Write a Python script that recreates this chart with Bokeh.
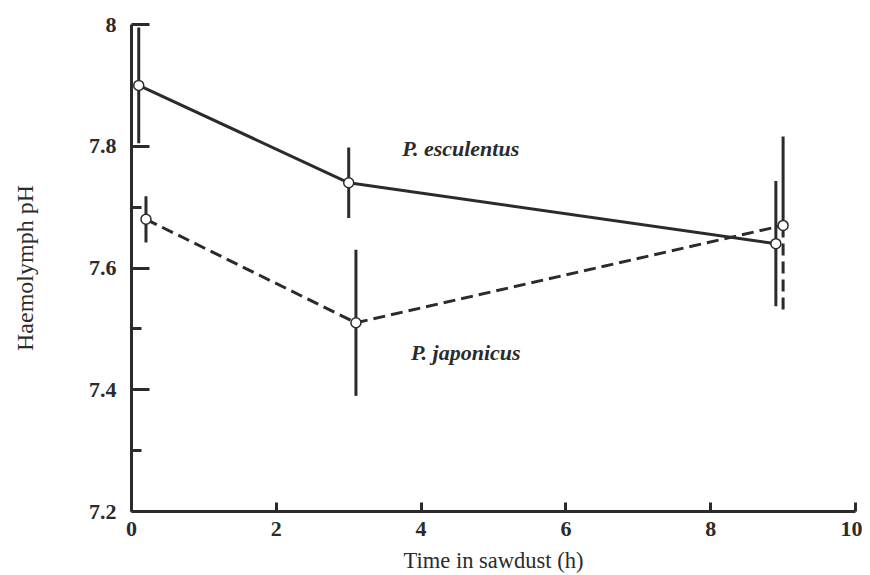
from bokeh.plotting import figure
from bokeh.models import Range1d, FixedTicker, ColumnDataSource, Label
from bokeh.embed import file_html
from bokeh.resources import INLINE

# ---- data ----
esc_time = [0.1, 3.0, 8.9]
esc_ph = [7.90, 7.74, 7.64]
esc_err = [0.095, 0.058, 0.103]

jap_time = [0.2, 3.1, 9.0]
jap_ph = [7.68, 7.51, 7.67]
jap_err = [0.038, 0.12, 0.146]

x_ticks = [0, 2, 4, 6, 8, 10]
y_ticks = [7.2, 7.4, 7.6, 7.8, 8.0]
y_minor = [7.3, 7.5, 7.7]
y_labels = {7.2: "7.2", 7.4: "7.4", 7.6: "7.6", 7.8: "7.8", 8.0: "8"}

INK = "#2b2b2b"
FONT = "Liberation Serif"

p = figure(width=862, height=575, output_backend="svg", toolbar_location=None,
           x_range=Range1d(0, 10), y_range=Range1d(7.2, 8.0),
           min_border_left=131, min_border_right=7, min_border_top=24,
           min_border_bottom=63)
p.outline_line_color = None
p.grid.visible = False
p.background_fill_color = "white"
p.border_fill_color = "white"

for ax in (p.xaxis[0], p.yaxis[0]):
    ax.axis_line_width = 3
    ax.axis_line_color = INK
    ax.major_tick_line_width = 3
    ax.major_tick_line_color = INK
    ax.minor_tick_line_width = 3
    ax.minor_tick_line_color = INK
    ax.major_label_text_font = FONT
    ax.major_label_text_font_style = "bold"
    ax.major_label_text_color = INK
    ax.major_label_text_font_size = "22px"
    ax.axis_label_text_font = FONT
    ax.axis_label_text_font_style = "normal"
    ax.axis_label_text_color = INK

p.xaxis.ticker = FixedTicker(ticks=x_ticks)
p.xaxis.major_tick_in = 9
p.xaxis.major_tick_out = 0
p.xaxis.minor_tick_in = 0
p.xaxis.minor_tick_out = 0
p.xaxis.major_label_standoff = 10
p.xaxis.axis_label = "Time in sawdust (h)"
p.xaxis.axis_label_text_font_size = "22.5px"
p.xaxis.axis_label_standoff = 9

p.yaxis.ticker = FixedTicker(ticks=y_ticks, minor_ticks=y_minor)
p.yaxis.major_label_overrides = y_labels
p.yaxis.major_tick_in = 18
p.yaxis.major_tick_out = 0
p.yaxis.minor_tick_in = 10
p.yaxis.minor_tick_out = 0
p.yaxis.major_label_standoff = 15
p.yaxis.axis_label = "Haemolymph pH"
p.yaxis.axis_label_text_font_size = "24px"
p.yaxis.axis_label_standoff = 48

# error bars
esc_src = ColumnDataSource(dict(x=esc_time, y=esc_ph,
                                lo=[v - e for v, e in zip(esc_ph, esc_err)],
                                hi=[v + e for v, e in zip(esc_ph, esc_err)]))
jap_src = ColumnDataSource(dict(x=jap_time, y=jap_ph,
                                lo=[v - e for v, e in zip(jap_ph, jap_err)],
                                hi=[v + e for v, e in zip(jap_ph, jap_err)]))

p.segment(x0="x", y0="lo", x1="x", y1="hi", source=esc_src, line_width=3, line_color=INK)
# japonicus: upper halves solid, lower halves solid except last (dashed)
p.segment(x0=jap_time, y0=jap_ph, x1=jap_time,
          y1=[v + e for v, e in zip(jap_ph, jap_err)], line_width=3, line_color=INK)
p.segment(x0=jap_time[:-1], y0=jap_ph[:-1], x1=jap_time[:-1],
          y1=[v - e for v, e in zip(jap_ph[:-1], jap_err[:-1])], line_width=3, line_color=INK)
p.segment(x0=jap_time[-1:], y0=jap_ph[-1:], x1=jap_time[-1:],
          y1=[jap_ph[-1] - jap_err[-1]], line_width=3, line_color=INK, line_dash="12 6")

# lines
p.line("x", "y", source=esc_src, line_width=3, line_color=INK)
p.line("x", "y", source=jap_src, line_width=3, line_color=INK, line_dash="12 6")

# markers
p.scatter("x", "y", source=esc_src, marker="circle", size=10, fill_color="white",
          line_color=INK, line_width=1.5)
p.scatter("x", "y", source=jap_src, marker="circle", size=10, fill_color="white",
          line_color=INK, line_width=1.5)

p.add_layout(Label(x=3.74, y=7.797, text="P. esculentus", text_font=FONT,
                   text_font_style="bold italic", text_font_size="22px",
                   text_color=INK, text_baseline="middle"))
p.add_layout(Label(x=3.86, y=7.461, text="P. japonicus", text_font=FONT,
                   text_font_style="bold italic", text_font_size="22px",
                   text_color=INK, text_baseline="middle"))

open("out.html", "w").write(file_html(p, INLINE))
